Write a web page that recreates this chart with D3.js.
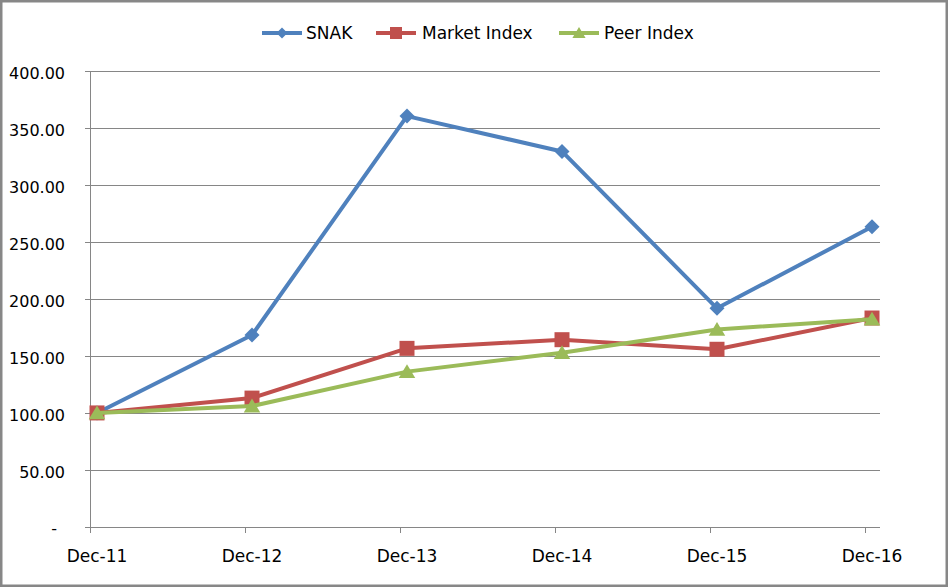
<!DOCTYPE html>
<html>
<head>
<meta charset="utf-8">
<script src="https://cdn.jsdelivr.net/npm/d3@7"></script>
<style>
html,body{margin:0;padding:0;background:#fff;}
svg{display:block;}
text{font-family:"DejaVu Sans",sans-serif;fill:#000;}
</style>
</head>
<body>
<svg id="chart" width="948" height="587"></svg>
<script>
const categories = ["Dec-11","Dec-12","Dec-13","Dec-14","Dec-15","Dec-16"];
const snak = [100, 168.3, 360.2, 329.2, 191.7, 263.2];
const marketIndex = [100, 113, 156.6, 164.2, 155.8, 183.2];
const peerIndex = [100, 106, 136.2, 152.8, 173.2, 182.2];
const yTicks = [0, 50, 100, 150, 200, 250, 300, 350, 400];
const yTickLabels = ["-", "50.00", "100.00", "150.00", "200.00", "250.00", "300.00", "350.00", "400.00"];
const seriesNames = ["SNAK", "Market Index", "Peer Index"];
const seriesColors = ["#4F81BD", "#C0504D", "#9BBB59"];
const seriesShapes = ["diamond", "square", "triangle"];

const series = [snak, marketIndex, peerIndex];
const svg = d3.select("#chart");

const axisLeft = 90, axisRight = 880, axisTop = 70.7, axisBottom = 527;
const y = d3.scaleLinear().domain([0, 400]).range([axisBottom, axisTop]);
const x = d3.scalePoint().domain(categories).range([97, 872]);
const tickOffset = -6.7;

// gridlines
svg.append("g").selectAll("line").data(yTicks.filter(d => d > 0)).join("line")
  .attr("x1", axisLeft - 5).attr("x2", axisRight)
  .attr("y1", d => Math.round(y(d)) + 0.5).attr("y2", d => Math.round(y(d)) + 0.5)
  .attr("stroke", "#868686").attr("stroke-width", 1);

// y axis
svg.append("line").attr("x1", axisLeft + 0.5).attr("x2", axisLeft + 0.5)
  .attr("y1", Math.round(axisTop)).attr("y2", axisBottom + 0.5)
  .attr("stroke", "#868686").attr("stroke-width", 1);
svg.append("line").attr("x1", axisLeft - 5).attr("x2", axisLeft)
  .attr("y1", axisBottom + 0.5).attr("y2", axisBottom + 0.5)
  .attr("stroke", "#868686").attr("stroke-width", 1);

// x axis
svg.append("line").attr("x1", axisLeft).attr("x2", axisRight)
  .attr("y1", axisBottom + 0.5).attr("y2", axisBottom + 0.5)
  .attr("stroke", "#868686").attr("stroke-width", 1);
svg.append("g").selectAll("line").data(categories).join("line")
  .attr("x1", d => Math.round(x(d) + tickOffset) + 0.5).attr("x2", d => Math.round(x(d) + tickOffset) + 0.5)
  .attr("y1", axisBottom).attr("y2", axisBottom + 6)
  .attr("stroke", "#868686").attr("stroke-width", 1);

// y labels
svg.append("g").selectAll("text").data(yTicks).join("text")
  .attr("x", (d, i) => yTickLabels[i] === "-" ? 57 : 65)
  .attr("y", d => y(d) + (d === 0 ? 7 : 8))
  .attr("text-anchor", "end")
  .attr("font-size", "16px")
  .text((d, i) => yTickLabels[i]);

// x labels
svg.append("g").selectAll("text").data(categories).join("text")
  .attr("x", d => x(d)).attr("y", 561.5)
  .attr("text-anchor", "middle")
  .attr("font-size", "17px")
  .text(d => d);

function markerPath(shape, s) {
  const h = s / 2;
  if (shape === "diamond") return `M0,${-h}L${h},0L0,${h}L${-h},0Z`;
  if (shape === "square") return `M${-h},${-h}H${h}V${h}H${-h}Z`;
  return `M0,${-h * 1.0}L${h * 1.1},${h * 0.85}L${-h * 1.1},${h * 0.85}Z`;
}
const markerSizes = {diamond: 15, square: 15, triangle: 15};

const line = d3.line().x((d, i) => x(categories[i])).y(d => y(d));
series.forEach((vals, si) => {
  const g = svg.append("g");
  g.append("path").datum(vals).attr("d", line)
    .attr("fill", "none").attr("stroke", seriesColors[si])
    .attr("stroke-width", 4).attr("stroke-linejoin", "round").attr("stroke-linecap", "round");
  g.selectAll("path.m").data(vals).join("path").attr("class", "m")
    .attr("transform", (d, i) => `translate(${x(categories[i])},${y(d)})`)
    .attr("d", markerPath(seriesShapes[si], markerSizes[seriesShapes[si]]))
    .attr("fill", seriesColors[si]);
});

// legend
const legendItems = [
  {lx: 262, tx: 306},
  {lx: 376, tx: 422},
  {lx: 559, tx: 604}
];
const legendY = 33;
const legendMarkerSizes = {diamond: 11, square: 12, triangle: 12};
seriesNames.forEach((name, i) => {
  const it = legendItems[i];
  const g = svg.append("g");
  g.append("line").attr("x1", it.lx).attr("x2", it.lx + 40)
    .attr("y1", legendY).attr("y2", legendY)
    .attr("stroke", seriesColors[i]).attr("stroke-width", 4);
  g.append("path").attr("transform", `translate(${it.lx + 20},${legendY})`)
    .attr("d", markerPath(seriesShapes[i], legendMarkerSizes[seriesShapes[i]]))
    .attr("fill", seriesColors[i]);
  g.append("text").attr("x", it.tx).attr("y", 39.3)
    .attr("font-size", "17px").text(name);
});

// outer border
svg.append("rect").attr("x", 1.25).attr("y", 1.25).attr("width", 945.5).attr("height", 584.5)
  .attr("fill", "none").attr("stroke", "#878787").attr("stroke-width", 2.5);
</script>
</body>
</html>
